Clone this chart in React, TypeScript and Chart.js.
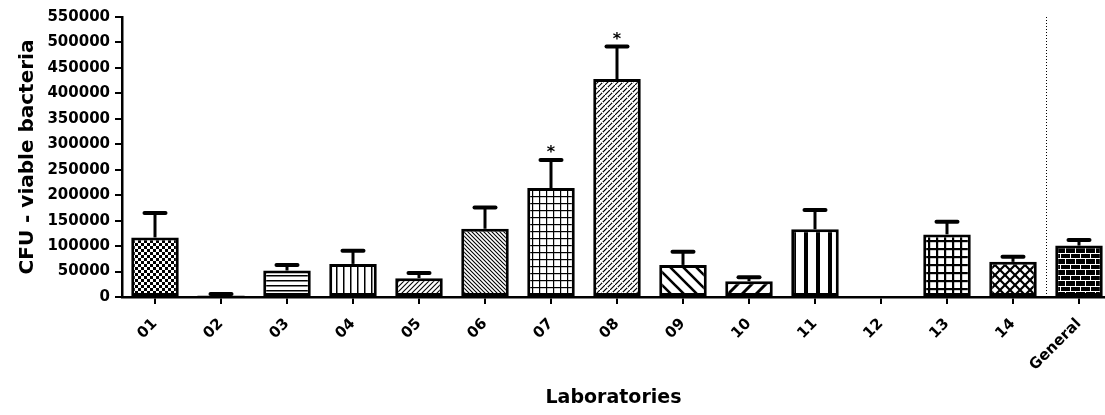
import { useEffect, useRef } from "react";
import { Chart, registerables } from "chart.js";

Chart.register(...registerables);

const labels = ["01", "02", "03", "04", "05", "06", "07", "08", "09", "10", "11", "12", "13", "14", "General"];
const means: (number | null)[] = [117000, 3000, 52000, 65000, 37000, 134000, 214000, 428000, 63000, 31000, 133000, null, 123000, 69000, 101000];
const errors: (number | null)[] = [48000, 3000, 11000, 26000, 10000, 42000, 55000, 64000, 26000, 8000, 38000, null, 25000, 10000, 11000];
const marks = ["", "", "", "", "", "", "*", "*", "", "", "", "", "", "", ""];
const yMin = 0;
const yMax = 550000;
const yStep = 50000;
const separatorAt = 13.5;
const yTitle = "CFU - viable bacteria";
const xTitle = "Laboratories";

const patternKinds = [
  "checker", "diagThin", "hlines", "vlines", "diagThin", "backDense", "gridThin", "weave",
  "backWide", "diagWide", "vThick", "none", "gridThick", "diamond", "brick",
];

const FONT = '"DejaVu Sans", "Liberation Sans", sans-serif';

function diag(ctx: CanvasRenderingContext2D, s: number, forward: boolean) {
  ctx.beginPath();
  if (forward) {
    for (const o of [-s, 0, s]) {
      ctx.moveTo(o - 1, s + 1);
      ctx.lineTo(o + s + 1, -1);
    }
  } else {
    for (const o of [-s, 0, s]) {
      ctx.moveTo(o - 1, -1);
      ctx.lineTo(o + s + 1, s + 1);
    }
  }
  ctx.stroke();
}

function makePattern(kind: string): CanvasPattern | string {
  const c = document.createElement("canvas");
  let w = 6, h = 6;
  const sizes: Record<string, [number, number]> = {
    checker: [6, 6], diagThin: [5, 5], hlines: [5, 5], vlines: [7, 7], backDense: [4, 4],
    gridThin: [7, 7], weave: [10, 10], backWide: [13, 13], diagWide: [14, 14], vThick: [12, 12],
    gridThick: [8, 8], diamond: [10, 10], brick: [10, 11],
  };
  if (kind === "none") return "#ffffff";
  [w, h] = sizes[kind];
  c.width = w;
  c.height = h;
  const ctx = c.getContext("2d")!;
  ctx.fillStyle = "#ffffff";
  ctx.fillRect(0, 0, w, h);
  ctx.fillStyle = "#000000";
  ctx.strokeStyle = "#000000";
  switch (kind) {
    case "checker":
      ctx.fillRect(0, 0, 3, 3);
      ctx.fillRect(3, 3, 3, 3);
      break;
    case "hlines":
      ctx.fillRect(0, 0, w, 1.5);
      break;
    case "vlines":
      ctx.fillRect(0, 0, 1.5, h);
      break;
    case "diagThin":
      ctx.lineWidth = 1.1;
      diag(ctx, w, true);
      break;
    case "backDense":
      ctx.lineWidth = 1.1;
      diag(ctx, w, false);
      break;
    case "gridThin":
      ctx.fillRect(0, 0, w, 1.2);
      ctx.fillRect(0, 0, 1.2, h);
      break;
    case "weave": {
      ctx.lineWidth = 1.2;
      ctx.beginPath();
      for (const o of [-10, -5, 0, 5, 10]) {
        ctx.moveTo(o - 1, 11);
        ctx.lineTo(o + 11, -1);
      }
      ctx.stroke();
      ctx.strokeStyle = "#ffffff";
      ctx.lineWidth = 1;
      diag(ctx, w, false);
      break;
    }
    case "backWide":
      ctx.lineWidth = 2.6;
      diag(ctx, w, false);
      break;
    case "diagWide":
      ctx.lineWidth = 3;
      diag(ctx, w, true);
      break;
    case "vThick":
      ctx.fillRect(0, 0, 4, h);
      break;
    case "gridThick":
      ctx.fillRect(0, 0, w, 2.2);
      ctx.fillRect(0, 0, 2.2, h);
      break;
    case "diamond":
      ctx.lineWidth = 2.2;
      diag(ctx, w, true);
      diag(ctx, w, false);
      break;
    case "brick":
      ctx.fillRect(0, 0, w, h);
      ctx.fillStyle = "#ffffff";
      ctx.fillRect(0, 0, w, 1);
      ctx.fillRect(0, 5, w, 1);
      ctx.fillRect(0, 0, 1, 5);
      ctx.fillRect(5, 5, 1, 6);
      break;
  }
  const main = document.createElement("canvas").getContext("2d")!;
  return main.createPattern(c, "repeat") as CanvasPattern;
}

const errorBarPlugin = {
  id: "errorBars",
  afterDatasetsDraw(chart: any) {
    const { ctx, scales } = chart;
    const xs = scales.x;
    const ys = scales.y;
    means.forEach((m, i) => {
      const e = errors[i];
      if (m == null || e == null) return;
      const px = xs.getPixelForValue(i);
      const top = ys.getPixelForValue(m);
      const end = ys.getPixelForValue(m + e);
      ctx.save();
      ctx.strokeStyle = "#000";
      ctx.lineWidth = 3;
      ctx.beginPath();
      ctx.moveTo(px, top);
      ctx.lineTo(px, end);
      ctx.stroke();
      ctx.lineWidth = 4;
      ctx.lineCap = "round";
      ctx.beginPath();
      ctx.moveTo(px - 10.5, end);
      ctx.lineTo(px + 10.5, end);
      ctx.stroke();
      if (marks[i]) {
        ctx.fillStyle = "#000";
        ctx.font = `bold 16px ${FONT}`;
        ctx.textAlign = "center";
        ctx.textBaseline = "alphabetic";
        ctx.fillText(marks[i], px, end - 3);
      }
      ctx.restore();
    });
  },
};

const separatorPlugin = {
  id: "separator",
  beforeDatasetsDraw(chart: any) {
    const { ctx, chartArea, scales } = chart;
    const x = Math.round(scales.x.getPixelForValue(separatorAt)) + 0.5;
    ctx.save();
    ctx.strokeStyle = "#000";
    ctx.lineWidth = 1;
    ctx.setLineDash([1, 2]);
    ctx.beginPath();
    ctx.moveTo(x, chartArea.top);
    ctx.lineTo(x, chartArea.bottom);
    ctx.stroke();
    ctx.restore();
  },
};

export default function App() {
  const ref = useRef<HTMLCanvasElement | null>(null);

  useEffect(() => {
    if (!ref.current) return;
    const patterns = patternKinds.map((k) => makePattern(k));
    const chart = new Chart(ref.current, {
      type: "bar",
      data: {
        datasets: [
          {
            data: means.map((v, i) => ({ x: i, y: v })) as any,
            backgroundColor: patterns as any,
            borderColor: "#000",
            borderWidth: 3,
            borderSkipped: false,
            categoryPercentage: 1,
            barPercentage: 0.72,
          },
        ],
      },
      options: {
        animation: false,
        responsive: true,
        maintainAspectRatio: false,
        layout: { padding: { top: 17, left: 0, right: 0, bottom: 0 } },
        plugins: { legend: { display: false }, tooltip: { enabled: false } },
        scales: {
          x: {
            type: "linear",
            offset: false,
            min: -0.5,
            max: 14.394,
            afterBuildTicks: (s: any) => {
              s.ticks = labels.map((_, i) => ({ value: i }));
            },
            afterFit: (s: any) => {
              s.height = 118;
            },
            ticks: {
              autoSkip: false,
              minRotation: 45,
              maxRotation: 45,
              padding: 11,
              color: "#000",
              font: { family: FONT, size: 15, weight: "bold" },
              callback: (v: any) => labels[v] ?? "",
            },
            grid: { offset: false, drawOnChartArea: false, drawTicks: true, tickLength: 7, color: "#000", lineWidth: 2 },
            border: { display: true, color: "#000", width: 2.5 },
            title: {
              display: true,
              text: xTitle,
              color: "#000",
              font: { family: FONT, size: 19, weight: "bold" },
              padding: { top: 0, bottom: 6 },
            },
          },
          y: {
            type: "linear",
            min: yMin,
            max: yMax,
            afterFit: (s: any) => {
              s.width = 122;
            },
            ticks: {
              stepSize: yStep,
              padding: 5,
              color: "#000",
              font: { family: FONT, size: 15, weight: "bold" },
              callback: (v: any) => String(v),
            },
            grid: { drawOnChartArea: false, drawTicks: true, tickLength: 7, color: "#000", lineWidth: 2 },
            border: { display: true, color: "#000", width: 2.5 },
            title: {
              display: true,
              text: yTitle,
              color: "#000",
              font: { family: FONT, size: 20, weight: "bold" },
              padding: { top: 16, bottom: 0 },
            },
          },
        },
      },
      plugins: [separatorPlugin, errorBarPlugin],
    });
    return () => chart.destroy();
  }, []);

  return (
    <div style={{ position: "absolute", left: 0, top: 0, width: 1105, height: 415, background: "#fff" }}>
      <canvas ref={ref} />
    </div>
  );
}
